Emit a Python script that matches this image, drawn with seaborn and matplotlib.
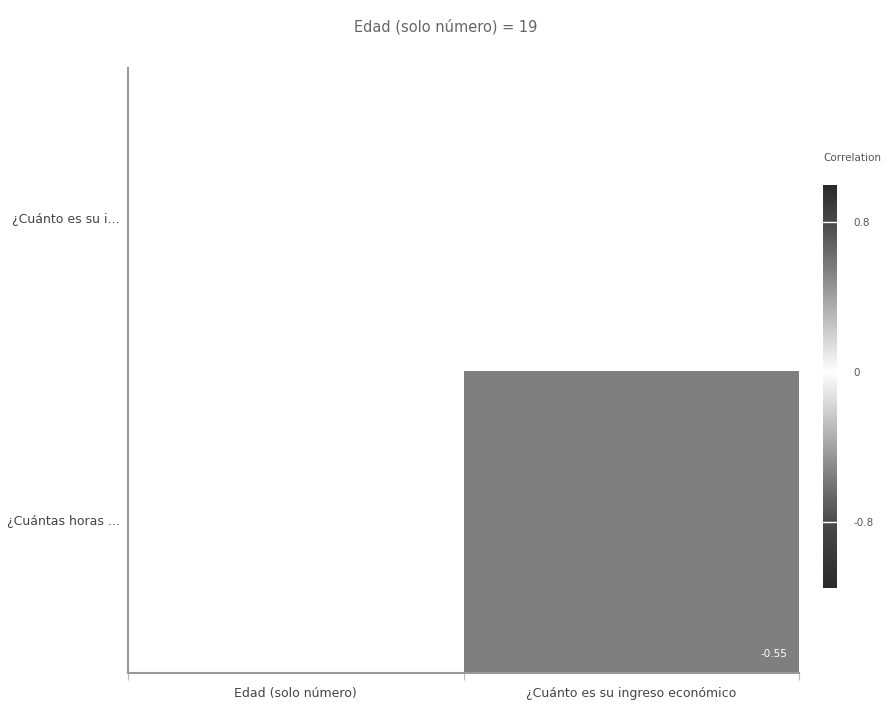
import numpy as np
import pandas as pd
import matplotlib
matplotlib.use("Agg")
import matplotlib.pyplot as plt
from matplotlib.colors import LinearSegmentedColormap
import seaborn as sns

title = "Edad (solo número) = 19"
row_labels = ["¿Cuánto es su i...", "¿Cuántas horas ..."]
col_labels = ["Edad (solo número)", "¿Cuánto es su ingreso económico"]
row_cuanto_ingreso = [np.nan, np.nan]
row_cuantas_horas = [np.nan, -0.55]
cbar_ticks = [-0.8, 0, 0.8]
cbar_ticklabels = ["-0.8", "0", "0.8"]

sns.set_theme(style="white")
plt.rcParams['font.family'] = ['DejaVu Sans']

df = pd.DataFrame([row_cuanto_ingreso, row_cuantas_horas], index=row_labels, columns=col_labels)

vmin, vmax = -1.15, 1.0
nodes = [(-1.15, "#2a2a2a"), (-0.8, "#4a4a4a"), (-0.55, "#7f7f7f"), (0.0, "#ffffff"),
         (0.55, "#7f7f7f"), (0.8, "#4a4a4a"), (1.0, "#2a2a2a")]
cmap = LinearSegmentedColormap.from_list(
    "corr", [((v - vmin) / (vmax - vmin), c) for v, c in nodes])

fig = plt.figure(figsize=(8.91, 7.11), dpi=100)
ax = fig.add_axes([128/891, 38/711, 671/891, 605/711])
cax = fig.add_axes([823/891, 123/711, 14/891, 403/711])

sns.heatmap(df, ax=ax, cmap=cmap, vmin=vmin, vmax=vmax, cbar_ax=cax,
            cbar_kws={"ticks": cbar_ticks}, annot=False)

# annotation in bottom-right corner of each filled cell
for i, r in enumerate(row_labels):
    for j, c in enumerate(col_labels):
        v = df.loc[r, c]
        if not np.isnan(v):
            ax.text(j + 0.965, i + 0.955, f"{v:.2f}", ha="right", va="bottom",
                    color="white", fontsize=7.5)

ax.set_xlabel("")
ax.set_ylabel("")
ax.tick_params(axis="x", labelsize=9, colors="#444444", length=0, pad=10, rotation=0)
ax.tick_params(axis="y", labelsize=9, colors="#444444", length=0, pad=6, rotation=0)
ax.set_xticks([0, 1, 2], minor=True)
ax.tick_params(axis="x", which="minor", length=5, color="#bbbbbb", width=0.8, bottom=True)
for lab in ax.get_yticklabels():
    lab.set_rotation(0)

for s in ["left", "bottom"]:
    ax.spines[s].set_visible(True)
    ax.spines[s].set_color("#999999")
    ax.spines[s].set_linewidth(1.5)
for s in ["top", "right"]:
    ax.spines[s].set_visible(False)

fig.text(0.5, 1 - 27/711, title, ha="center", va="center", fontsize=10.5, color="#666666")

# colorbar styling
cax.tick_params(length=0, labelsize=7.5, colors="#555555", pad=12)
cax.set_yticklabels(cbar_ticklabels)
for t in cbar_ticks:
    if t != 0:
        cax.axhline(t, color="white", lw=1)
for s in cax.spines.values():
    s.set_visible(False)
cax.text(0.0, 1.0, "Correlation", transform=cax.transAxes, ha="left", va="bottom",
         fontsize=7.5, color="#555555")
cax.texts[-1].set_y(1.0 + 22/403)

fig.savefig("out.png", dpi=100, facecolor="white")
